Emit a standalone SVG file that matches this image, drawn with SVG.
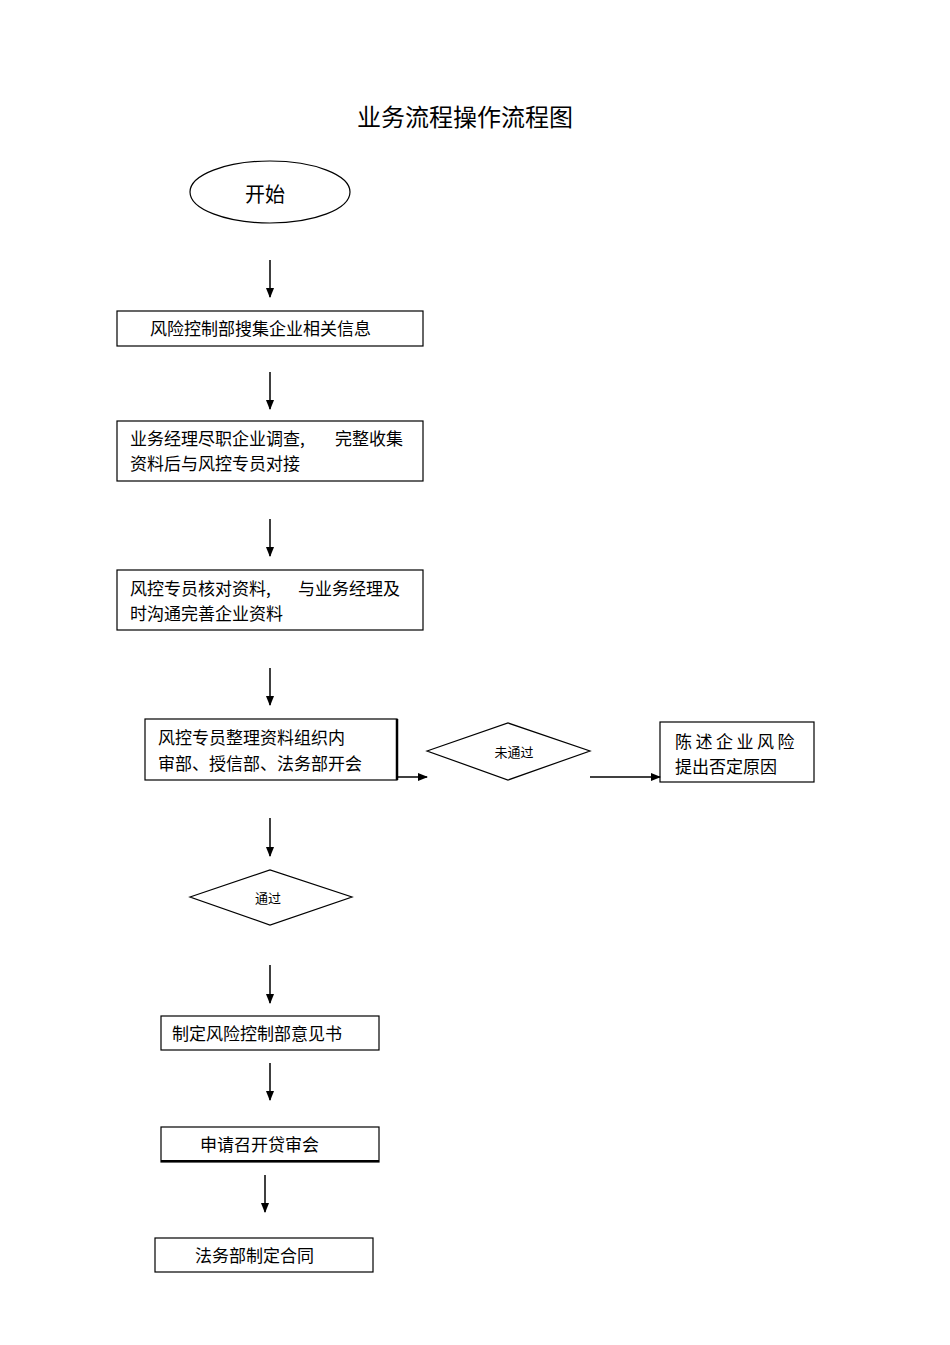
<svg xmlns="http://www.w3.org/2000/svg" width="950" height="1345" viewBox="0 0 950 1345">
<style>
.b{fill:#fff;stroke:#000;stroke-width:1.2}
.t{font-family:"Noto Sans CJK SC","Liberation Sans",sans-serif;font-size:17px;fill:#000}
.c{stroke:#000;stroke-width:1.5;fill:none;marker-end:url(#a)}
</style>
<defs><marker id="a" viewBox="0 0 10 10" refX="9" refY="5" markerWidth="7" markerHeight="7" orient="auto"><path d="M0,1L10,5L0,9z" fill="#000"/></marker></defs>
<rect width="950" height="1345" fill="#fff"/>
<text x="465" y="126" text-anchor="middle" class="t" style="font-size:24px">业务流程操作流程图</text>
<g id="start"><ellipse class="b" cx="270" cy="192" rx="80" ry="31"/><text x="265" y="202" text-anchor="middle" class="t" style="font-size:20px">开始</text></g>
<g id="n1"><rect class="b" x="117" y="311" width="306" height="35"/><text x="150" y="335" class="t">风险控制部搜集企业相关信息</text></g>
<g id="n2"><rect class="b" x="117" y="421" width="306" height="60"/><text x="130" y="445" class="t">业务经理尽职企业调查,<tspan x="335">完整收集</tspan></text><text x="130" y="470" class="t">资料后与风控专员对接</text></g>
<g id="n3"><rect class="b" x="117" y="570" width="306" height="60"/><text x="130" y="595" class="t">风控专员核对资料,<tspan x="298">与业务经理及</tspan></text><text x="130" y="620" class="t">时沟通完善企业资料</text></g>
<g id="n4"><rect class="b" x="145" y="719" width="252" height="61"/><line x1="397" y1="719" x2="397" y2="780" stroke="#000" stroke-width="2.5"/><text x="158" y="744" class="t">风控专员整理资料组织内</text><text x="158" y="770" class="t">审部、授信部、法务部开会</text></g>
<g id="d1"><polygon class="b" points="427,751 508,723 590,751 508,780"/><text x="514" y="757" text-anchor="middle" class="t" style="font-size:13px">未通过</text></g>
<g id="n5"><rect class="b" x="660" y="722" width="154" height="60"/><text x="675" y="748" class="t" style="letter-spacing:3.5px">陈述企业风险</text><text x="675" y="773" class="t">提出否定原因</text></g>
<g id="d2"><polygon class="b" points="190,897 270,870 352,897 270,925"/><text x="268" y="903" text-anchor="middle" class="t" style="font-size:13px">通过</text></g>
<g id="n6"><rect class="b" x="161" y="1016" width="218" height="34"/><text x="172" y="1040" class="t">制定风险控制部意见书</text></g>
<g id="n7"><rect class="b" x="161" y="1127" width="218" height="35"/><line x1="161" y1="1161" x2="379" y2="1161" stroke="#000" stroke-width="2"/><text x="200" y="1151" class="t">申请召开贷审会</text></g>
<g id="n8"><rect class="b" x="155" y="1238" width="218" height="34"/><text x="195" y="1262" class="t">法务部制定合同</text></g>
<g id="connectors">
<line class="c" x1="270" y1="260" x2="270" y2="297"/>
<line class="c" x1="270" y1="372" x2="270" y2="409"/>
<line class="c" x1="270" y1="519" x2="270" y2="556"/>
<line class="c" x1="270" y1="668" x2="270" y2="705"/>
<line class="c" x1="397" y1="777" x2="427" y2="777"/>
<line class="c" x1="590" y1="777" x2="660" y2="777"/>
<line class="c" x1="270" y1="818" x2="270" y2="856"/>
<line class="c" x1="270" y1="965" x2="270" y2="1003"/>
<line class="c" x1="270" y1="1063" x2="270" y2="1100"/>
<line class="c" x1="265" y1="1175" x2="265" y2="1212"/>
</g>
</svg>
